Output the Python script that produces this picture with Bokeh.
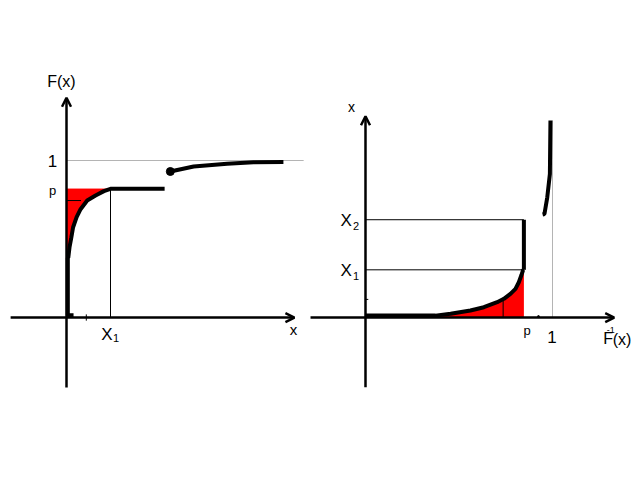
from bokeh.plotting import figure
from bokeh.layouts import row
from bokeh.models import Range1d, Arrow, OpenHead
from bokeh.core.properties import value
from bokeh.embed import file_html
from bokeh.resources import INLINE

FONT = value("Liberation Sans")

# ---------------- Left panel: distribution function F(x) ----------------
p_left = 0.82          # level p
x1_left = 1.0          # X1
flat_end = 2.23        # end of the flat part at level p (jump point)
mark_y = 0.745         # thin horizontal marker inside the red area
mark_x = 0.33
tick_left = 0.45       # small tick on x axis
foot_x = [0.16, 0.03, 0.03]
foot_y = [0.015, 0.015, 0.38]
cdf_x = [0.04, 0.07, 0.11, 0.15, 0.23, 0.32, 0.47, 0.66, 0.85, 1.0]
cdf_y = [0.38, 0.45, 0.51, 0.575, 0.64, 0.69, 0.745, 0.777, 0.805, 0.82]
upper_x = [2.36, 2.89, 3.65, 4.25, 4.93]
upper_y = [0.93, 0.962, 0.979, 0.989, 0.99]
one_line_end = 5.39

# ---------------- Right panel: inverse F^-1 ----------------
p_right = 0.847
x1_right = 1.0
x2_right = 2.05
base_x = [0.0, 0.374]
base_y = [0.04, 0.04]
inv_x = [0.374, 0.455, 0.561, 0.633, 0.704, 0.74, 0.775, 0.802, 0.82, 0.833, 0.843, 0.847]
inv_y = [0.04, 0.078, 0.147, 0.216, 0.321, 0.392, 0.497, 0.602, 0.74, 0.88, 1.0, 1.0]
inv_mark_x = 0.736
inv_mark_y = 0.392
inv_upper_x = [0.947, 0.957, 0.972, 0.986, 0.989]
inv_upper_y = [2.16, 2.17, 2.52, 3.01, 4.13]
one_vline_top = 4.13

W_L, W_R, H = 306, 326, 472


def make_fig(w, xr, yr):
    f = figure(width=w, height=H, x_range=Range1d(*xr), y_range=Range1d(*yr),
               output_backend="svg", toolbar_location=None, min_border=0)
    f.axis.visible = False
    f.grid.visible = False
    f.outline_line_color = None
    f.background_fill_color = "white"
    f.border_fill_color = "white"
    return f


def label(f, x, y, t, size):
    f.text(x=[x], y=[y], text=[t], text_font=FONT, text_font_size=size,
           text_align="center", text_baseline="middle", text_color="black")


def arrow(f, xs, ys, xe, ye):
    f.add_layout(Arrow(end=OpenHead(size=9, line_width=2.5, line_color="black"),
                       x_start=xs, y_start=ys, x_end=xe, y_end=ye,
                       line_width=2.5, line_color="black"))


# ---- left figure
L = make_fig(W_L, (-1.5, 5.4545), (-0.987, 2.019))
L.harea(x1=[0] * len(cdf_y), x2=cdf_x, y=cdf_y, fill_color="red")
L.harea(x1=[0, 0], x2=[x1_left, x1_left], y=[cdf_y[-1] - 0.005, p_left], fill_color="red")
L.segment(x0=[0], y0=[1.0], x1=[one_line_end], y1=[1.0], line_color="#b4b4b4", line_width=1)
L.segment(x0=[x1_left, 0], y0=[0, mark_y], x1=[x1_left, mark_x], y1=[p_left, mark_y],
          line_color="black", line_width=1)
L.segment(x0=[tick_left], y0=[-0.02], x1=[tick_left], y1=[0.02], line_color="black", line_width=1)
L.line(foot_x + cdf_x + [flat_end], foot_y + cdf_y + [p_left], line_color="black", line_width=4)
L.line(upper_x, upper_y, line_color="black", line_width=4)
L.scatter([upper_x[0]], [upper_y[0]], size=8, color="black")
arrow(L, -1.27, 0, 5.18, 0)
arrow(L, 0, -0.446, 0, 1.40)
label(L, -0.114, 1.503, "F(x)", "16px")
label(L, -0.318, 0.994, "1", "17px")
label(L, -0.318, 0.809, "p", "13px")
label(L, 0.92, -0.108, "X", "17px")
label(L, 1.125, -0.131, "1", "11px")
label(L, 5.16, -0.076, "x", "15px")

# ---- right figure
R = make_fig(W_R, (-0.3155, 1.4278), (-3.249, 6.646))
R.varea(x=inv_x, y1=[0] * len(inv_x), y2=inv_y, fill_color="red")
R.segment(x0=[1.0], y0=[0], x1=[1.0], y1=[one_vline_top], line_color="#b4b4b4", line_width=1)
R.segment(x0=[0, 0, inv_mark_x], y0=[x1_right, x2_right, 0],
          x1=[p_right, p_right, inv_mark_x], y1=[x1_right, x2_right, inv_mark_y],
          line_color="black", line_width=1)
R.segment(x0=[0], y0=[0.38], x1=[0.015], y1=[0.38], line_color="black", line_width=1)
R.scatter([0.925], [0.02], size=2, color="black")
R.line(base_x + inv_x, base_y + inv_y, line_color="black", line_width=4)
R.segment(x0=[p_right], y0=[x1_right], x1=[p_right], y1=[x2_right], line_color="black", line_width=4)
R.line(inv_upper_x, inv_upper_y, line_color="black", line_width=4)
arrow(R, -0.294, 0, 1.33, 0)
arrow(R, 0, -1.46, 0, 4.22)
label(R, -0.075, 4.42, "x", "14px")
label(R, -0.104, 2.03, "X", "17px")
label(R, -0.051, 1.91, "2", "11px")
label(R, -0.104, 0.985, "X", "17px")
label(R, -0.051, 0.86, "1", "11px")
label(R, 0.864, -0.27, "p", "13px")
label(R, 0.997, -0.40, "1", "17px")
label(R, 1.297, -0.43, "F", "16px")
label(R, 1.312, -0.26, "-1", "9px")
label(R, 1.372, -0.46, "(x)", "16px")

layout = row(L, R, spacing=0)
open("out.html", "w").write(file_html(layout, INLINE))
